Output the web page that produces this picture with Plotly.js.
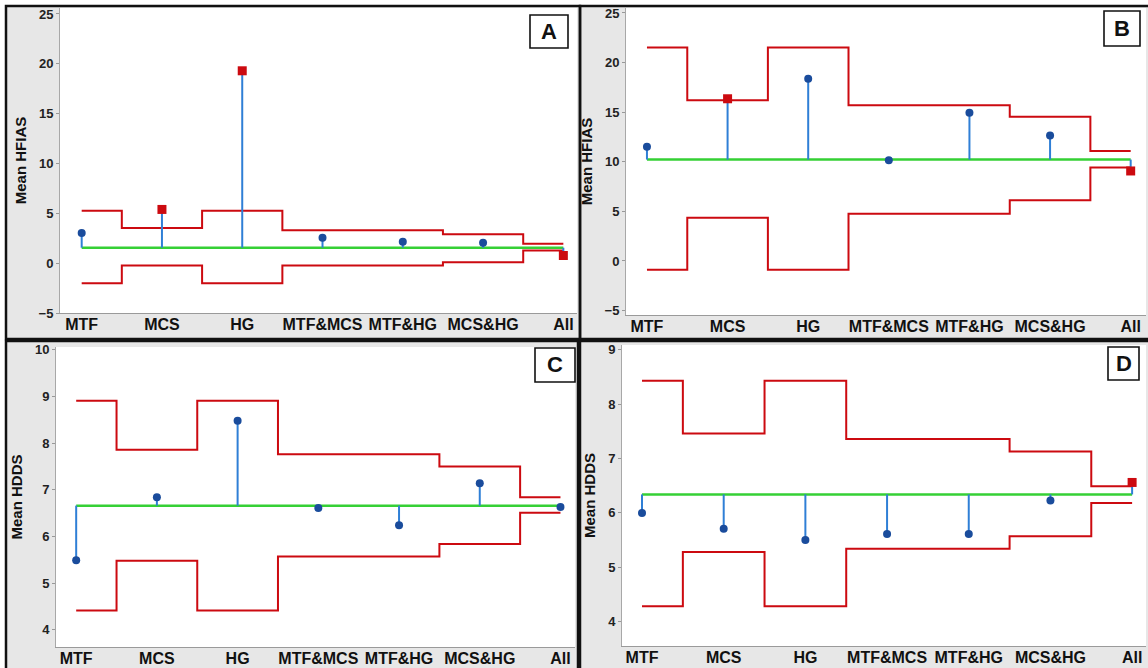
<!DOCTYPE html>
<html>
<head>
<meta charset="utf-8">
<script src="https://cdn.plot.ly/plotly-3.0.1.min.js"></script>
<style>html,body{margin:0;padding:0;background:#fff;}#chart{width:1148px;height:668px;}</style>
</head>
<body>
<div id="chart"></div>
<script>
// ---- data (ANOM charts) ----
const categories = ['MTF', 'MCS', 'HG', 'MTF&MCS', 'MTF&HG', 'MCS&HG', 'All'];

const meanA = [3.03, 5.39, 19.3, 2.56, 2.15, 2.05, 0.77];
const udlA = [5.25, 3.54, 5.25, 3.3, 3.3, 2.9, 1.95];
const ldlA = [-2.02, -0.24, -2.02, -0.24, -0.24, 0.1, 1.28];
const centerA = 1.55;

const meanB = [11.5, 16.35, 18.36, 10.15, 14.93, 12.65, 9.07];
const udlB = [21.53, 16.21, 21.53, 15.7, 15.7, 14.53, 11.09];
const ldlB = [-0.89, 4.36, -0.89, 4.77, 4.77, 6.11, 9.41];
const centerB = 10.22;

const meanC = [5.49, 6.84, 8.48, 6.61, 6.24, 7.14, 6.63];
const udlC = [8.91, 7.86, 8.91, 7.76, 7.76, 7.5, 6.84];
const ldlC = [4.41, 5.48, 4.41, 5.57, 5.57, 5.84, 6.51];
const centerC = 6.66;

const meanD = [6.0, 5.71, 5.5, 5.61, 5.61, 6.23, 6.56];
const udlD = [8.43, 7.46, 8.43, 7.36, 7.36, 7.13, 6.49];
const ldlD = [4.28, 5.28, 4.28, 5.34, 5.34, 5.57, 6.18];
const centerD = 6.34;

const panelLetters = ['A', 'B', 'C', 'D'];
const yTitles = ['Mean HFIAS', 'Mean HFIAS', 'Mean HDDS', 'Mean HDDS'];

// ---- geometry (pixels) ----
const W = 1148, H = 668;
const px = v => v / W;
const py = v => 1 - v / H;

const panels = [
  {mean: meanA, udl: udlA, ldl: ldlA, c: centerA, plot: [60, 8, 577, 313], frame: [6, 6, 580, 339], xr: [-0.27, 6.17], yr: [-5, 25.6], dt: 5, box: [530, 15, 568, 48]},
  {mean: meanB, udl: udlB, ldl: ldlB, c: centerB, plot: [626, 8, 1146, 315], frame: [580, 6, 1150, 339], xr: [-0.26, 6.19], yr: [-5.45, 25.5], dt: 5, box: [1104, 11, 1140, 46]},
  {mean: meanC, udl: udlC, ldl: ldlC, c: centerC, plot: [56, 347, 575, 647], frame: [6, 341, 578, 670], xr: [-0.25, 6.18], yr: [3.63, 10.06], dt: 1, box: [535, 348, 575, 382]},
  {mean: meanD, udl: udlD, ldl: ldlD, c: centerD, plot: [622, 345, 1146, 646], frame: [580, 341, 1150, 670], xr: [-0.245, 6.17], yr: [3.55, 9.09], dt: 1, box: [1108, 347, 1139, 380]}
];

const RED = '#cc0a10', GREEN = '#35d035', STEM = '#2f7fd6', DOT = '#1a4c9c';
const idx = categories.map((_, i) => i);

const traces = [];
const shapes = [];
const annotations = [];
const layout = {
  width: W, height: H,
  margin: {l: 0, r: 0, t: 0, b: 0},
  paper_bgcolor: '#ffffff',
  plot_bgcolor: 'rgba(0,0,0,0)',
  showlegend: false,
  font: {family: 'Liberation Sans, Arial, sans-serif', color: '#111'}
};

panels.forEach((p, k) => {
  const n = k + 1;
  const xa = n === 1 ? 'x' : 'x' + n;
  const ya = n === 1 ? 'y' : 'y' + n;
  const xk = n === 1 ? 'xaxis' : 'xaxis' + n;
  const yk = n === 1 ? 'yaxis' : 'yaxis' + n;

  // panel background (grey) and plot area (white)
  shapes.push({type: 'rect', xref: 'paper', yref: 'paper', layer: 'below',
    x0: px(p.frame[0]), x1: px(p.frame[2]), y0: py(p.frame[3]), y1: py(p.frame[1]),
    fillcolor: '#e7e7e7', line: {width: 0}});
  shapes.push({type: 'rect', xref: 'paper', yref: 'paper', layer: 'below',
    x0: px(p.plot[0]), x1: px(p.plot[2]), y0: py(p.plot[3]), y1: py(p.plot[1]),
    fillcolor: '#ffffff', line: {width: 0}});
  // panel frame
  shapes.push({type: 'rect', xref: 'paper', yref: 'paper', layer: 'above',
    x0: px(p.frame[0]), x1: px(p.frame[2]), y0: py(p.frame[3]), y1: py(p.frame[1]),
    fillcolor: 'rgba(0,0,0,0)', line: {width: 2.5, color: '#111'}});
  // letter box
  shapes.push({type: 'rect', xref: 'paper', yref: 'paper', layer: 'above',
    x0: px(p.box[0]), x1: px(p.box[2]), y0: py(p.box[3]), y1: py(p.box[1]),
    fillcolor: '#ffffff', line: {width: 1.6, color: '#111'}});
  annotations.push({xref: 'paper', yref: 'paper', x: px((p.box[0] + p.box[2]) / 2), y: py((p.box[1] + p.box[3]) / 2),
    text: '<b>' + panelLetters[k] + '</b>', showarrow: false, xanchor: 'center', yanchor: 'middle',
    font: {size: 22, color: '#111', family: 'Liberation Sans, Arial, sans-serif'}});

  layout[xk] = {
    domain: [px(p.plot[0]), px(p.plot[2])], anchor: ya, range: p.xr,
    tickmode: 'array', tickvals: idx, ticktext: categories.map(c => '<b>' + c + '</b>'),
    showgrid: false, zeroline: false, showline: true, linecolor: '#9a9a9a', linewidth: 1,
    ticks: '', ticklabelstandoff: -3,
    tickfont: {size: 16, color: '#111', family: 'Liberation Sans, Arial, sans-serif'},
    fixedrange: true
  };
  layout[yk] = {
    domain: [py(p.plot[3]), py(p.plot[1])], anchor: xa, range: p.yr,
    dtick: p.dt, tick0: 0, showgrid: false, zeroline: false, showline: true,
    linecolor: '#a8a8a8', linewidth: 1, ticks: 'outside', ticklen: 3, tickcolor: '#999',
    tickfont: {size: 13, color: '#222', family: 'Liberation Sans, Arial, sans-serif'},
    tickprefix: '<b>', ticksuffix: '</b>',
    title: {text: '<b>' + yTitles[k] + '</b>', standoff: 8,
      font: {size: 15, color: '#111', family: 'Liberation Sans, Arial, sans-serif'}},
    fixedrange: true
  };

  // decision limits (step lines)
  traces.push({x: idx, y: p.udl, xaxis: xa, yaxis: ya, mode: 'lines', type: 'scatter',
    line: {shape: 'hvh', color: RED, width: 2}, hoverinfo: 'skip'});
  traces.push({x: idx, y: p.ldl, xaxis: xa, yaxis: ya, mode: 'lines', type: 'scatter',
    line: {shape: 'hvh', color: RED, width: 2}, hoverinfo: 'skip'});
  // center line
  traces.push({x: [idx[0], idx[idx.length - 1]], y: [p.c, p.c], xaxis: xa, yaxis: ya, mode: 'lines', type: 'scatter',
    line: {color: GREEN, width: 2.5}, hoverinfo: 'skip'});
  // stems
  const sx = [], sy = [];
  p.mean.forEach((m, i) => { sx.push(i, i, null); sy.push(p.c, m, null); });
  traces.push({x: sx, y: sy, xaxis: xa, yaxis: ya, mode: 'lines', type: 'scatter',
    line: {color: STEM, width: 2}, hoverinfo: 'skip'});
  // markers
  const out = p.mean.map((m, i) => m > p.udl[i] || m < p.ldl[i]);
  traces.push({x: idx, y: p.mean, xaxis: xa, yaxis: ya, mode: 'markers', type: 'scatter',
    opacity: 1,
    marker: {
      symbol: out.map(o => o ? 'square' : 'circle'),
      size: out.map(o => o ? 9 : 8),
      color: out.map(o => o ? RED : DOT),
      opacity: 1,
      line: {width: 0}
    }});
});

layout.shapes = shapes;
layout.annotations = annotations;

Plotly.newPlot('chart', traces, layout, {staticPlot: true, displayModeBar: false});
</script>
</body>
</html>
